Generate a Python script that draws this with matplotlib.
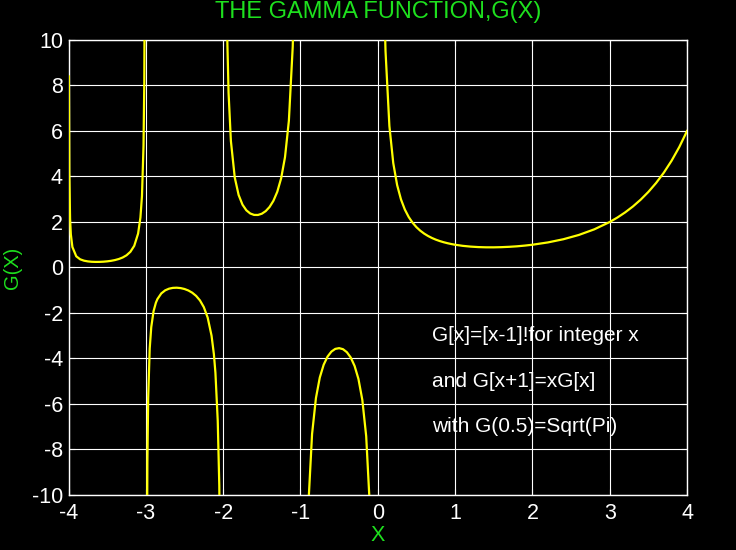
import matplotlib
matplotlib.use('Agg')
import matplotlib.pyplot as plt

# values, one list pair per branch between the poles
x1 = [-3.995, -3.99, -3.98, -3.97, -3.95, -3.9, -3.85, -3.8, -3.75, -3.7, -3.65, -3.6,
      -3.55, -3.5, -3.45, -3.4, -3.35, -3.3, -3.25, -3.2, -3.15, -3.1, -3.07, -3.05,
      -3.03, -3.02, -3.01]
g1 = [8.40, 4.23, 2.148, 1.455, 0.902, 0.492, 0.3605, 0.2996, 0.2679, 0.2516, 0.2454,
      0.2469, 0.2550, 0.2701, 0.2930, 0.3259, 0.3723, 0.4385, 0.5362, 0.6890, 0.9523,
      1.4923, 2.197, 3.142, 5.358, 8.13, 16.46]

x2 = [-2.99, -2.98, -2.97, -2.95, -2.93, -2.9, -2.87, -2.85, -2.8, -2.75, -2.7, -2.65,
      -2.6, -2.55, -2.5, -2.45, -2.4, -2.35, -2.3, -2.25, -2.2, -2.15, -2.12, -2.1,
      -2.07, -2.05, -2.03, -2.02]
g2 = [-16.88, -8.55, -5.776, -3.563, -2.620, -1.918, -1.548, -1.388, -1.1386, -1.0045,
      -0.9311, -0.8958, -0.8887, -0.9053, -0.9453, -1.011, -1.108, -1.2472, -1.447,
      -1.743, -2.205, -3.000, -3.809, -4.626, -6.744, -9.584, -16.23, -24.55]

x3 = [-1.97, -1.95, -1.93, -1.9, -1.85, -1.8, -1.75, -1.7, -1.65, -1.6, -1.55, -1.5,
      -1.45, -1.4, -1.35, -1.3, -1.25, -1.2, -1.15, -1.1, -1.07, -1.05, -1.03, -1.02]
g3 = [17.15, 10.51, 7.68, 5.563, 3.956, 3.188, 2.762, 2.514, 2.374, 2.311, 2.309, 2.363,
      2.477, 2.659, 2.931, 3.328, 3.921, 4.851, 6.449, 9.715, 13.96, 19.65, 32.95, 49.6]

x4 = [-0.97, -0.95, -0.93, -0.9, -0.85, -0.8, -0.75, -0.7, -0.65, -0.6, -0.55, -0.5,
      -0.45, -0.4, -0.35, -0.3, -0.25, -0.2, -0.15, -0.1, -0.07, -0.05, -0.03]
g4 = [-33.8, -20.49, -14.82, -10.571, -7.318, -5.739, -4.834, -4.274, -3.917, -3.697,
      -3.578, -3.545, -3.591, -3.723, -3.957, -4.327, -4.902, -5.821, -7.417, -10.686,
      -14.94, -20.63, -33.9]

x5 = [0.02, 0.05, 0.08, 0.1, 0.15, 0.2, 0.25, 0.3, 0.35, 0.4, 0.45, 0.5, 0.55, 0.6,
      0.65, 0.7, 0.75, 0.8, 0.85, 0.9, 0.95, 1.0, 1.1, 1.2, 1.3, 1.4, 1.5, 1.6, 1.7,
      1.8, 1.9, 2.0, 2.2, 2.4, 2.6, 2.8, 3.0, 3.1, 3.2, 3.3, 3.4, 3.5, 3.6, 3.7, 3.8,
      3.9, 4.0]
g5 = [49.44, 19.47, 12.0, 9.514, 6.220, 4.591, 3.626, 2.992, 2.546, 2.218, 1.968, 1.772,
      1.616, 1.489, 1.385, 1.298, 1.225, 1.164, 1.1125, 1.069, 1.0315, 1.0, 0.951, 0.918,
      0.897, 0.887, 0.886, 0.894, 0.909, 0.931, 0.962, 1.0, 1.102, 1.242, 1.430, 1.677,
      2.0, 2.198, 2.424, 2.683, 2.981, 3.323, 3.717, 4.171, 4.694, 5.299, 6.0]

x_ticks = [-4, -3, -2, -1, 0, 1, 2, 3, 4]
y_ticks = [-10, -8, -6, -4, -2, 0, 2, 4, 6, 8, 10]
notes = ['G[x]=[x-1]!for integer x', 'and G[x+1]=xG[x]', 'with G(0.5)=Sqrt(Pi)']
notes_y = [-3, -5, -7]

plt.rcParams['font.family'] = ['Liberation Sans', 'DejaVu Sans']
plt.rcParams['axes.unicode_minus'] = False

green = '#1ee01e'
fig = plt.figure(figsize=(7.36, 5.5), dpi=100, facecolor='black')
ax = fig.add_axes([0.0931, 0.1, 0.8404, 0.8273], facecolor='black')

for xs, gs in [(x1, g1), (x2, g2), (x3, g3), (x4, g4), (x5, g5)]:
  ax.plot(xs, gs, color='#ffff00', lw=1.6, zorder=3)

ax.set_xlim(-4, 4)
ax.set_ylim(-10, 10)
ax.set_xticks(x_ticks)
ax.set_yticks(y_ticks)
ax.grid(True, color='white', lw=0.8)
for s in ax.spines.values():
  s.set_color('white')
  s.set_linewidth(1.0)
ax.tick_params(colors='white', direction='in', length=4, labelsize=15.5,
               top=True, right=True)
ax.tick_params(axis='x', pad=6)
ax.tick_params(axis='y', pad=4)

for txt, ty in zip(notes, notes_y):
  ax.text(0.7, ty, txt, color='white', fontsize=15, va='center', ha='left')

ax.text(0.5, 1.0626, 'THE GAMMA FUNCTION,G(X)', transform=ax.transAxes,
        color=green, fontsize=17, ha='center', va='center')
ax.set_xlabel('X', color=green, fontsize=15.5, va='center')
ax.xaxis.set_label_coords(0.5, -0.09)
ax.set_ylabel('G(X)', color=green, fontsize=14.5, va='center')
ax.yaxis.set_label_coords(-0.09, 0.5)

fig.savefig('out.png', dpi=100, facecolor='black')
